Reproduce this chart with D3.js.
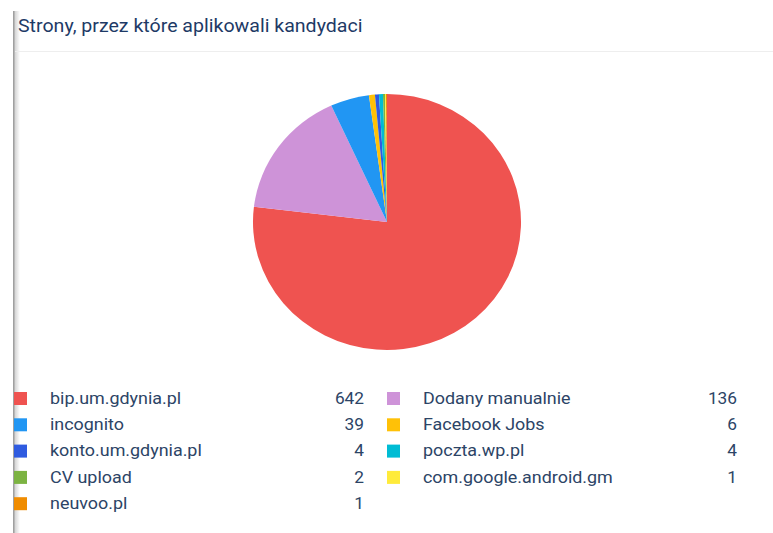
<!DOCTYPE html>
<html>
<head>
<meta charset="utf-8">
<script src="https://cdn.jsdelivr.net/npm/d3@7"></script>
<style>
  body { margin: 0; background: #fff; font-family: Roboto, "Noto Sans", sans-serif; }
</style>
</head>
<body>
<svg id="canvas"></svg>
<script>
"use strict";

// Sources and number of candidates
const sources = [
    "bip.um.gdynia.pl", "Dodany manualnie", "incognito", "Facebook Jobs",
    "konto.um.gdynia.pl", "poczta.wp.pl", "CV upload", "com.google.android.gm", "neuvoo.pl"
];
const counts = [642, 136, 39, 6, 4, 4, 2, 1, 1];
const colors = [
    "#ef5350", "#ce93d8", "#2196f3", "#ffc107",
    "#2f5be0", "#00bcd4", "#7cb342", "#ffeb3b", "#f08c00"
];

const width = 773, height = 533;
const title = "Strony, przez które aplikowali kandydaci";

const data = sources.map((s, i) => ({ name: s, value: counts[i], color: colors[i] }));

const canvas = d3.select("#canvas")
    .attr("width", width)
    .attr("height", height);

// left shadow border
const defs = canvas.append("defs");
const grad = defs.append("linearGradient").attr("id", "shadow");
grad.append("stop").attr("offset", "0%").attr("stop-color", "#c4c4c4");
grad.append("stop").attr("offset", "100%").attr("stop-color", "#ffffff");
canvas.append("rect")
    .attr("x", 13).attr("y", 11)
    .attr("width", 7).attr("height", height - 11)
    .attr("fill", "url(#shadow)");
canvas.append("rect")
    .attr("x", 13).attr("y", 11)
    .attr("width", 1.5).attr("height", height - 11)
    .attr("fill", "#a0a0a0");

// the whole picture is a bit stretched sideways
const sx = 1.047;

canvas.append("text")
    .attr("transform", `translate(18,32) scale(${sx},1)`)
    .attr("font-size", "18.7px")
    .attr("fill", "#1e3a66")
    .text(title);

canvas.append("line")
    .attr("x1", 15).attr("x2", width)
    .attr("y1", 51.5).attr("y2", 51.5)
    .attr("stroke", "#eeeeee");

// pie
const pie = d3.pie().value(d => d.value).sort(null);
const arc = d3.arc().innerRadius(0).outerRadius(128);

canvas.append("g")
    .attr("transform", `translate(387,222) scale(${sx},1)`)
    .selectAll("path")
    .data(pie(data))
    .enter()
    .append("path")
    .attr("d", arc)
    .attr("fill", d => d.data.color);

// legend, row-major in two columns
const colX = [14, 387];
const valX = [364, 737];
const rowY = d3.scaleLinear().domain([0, 1]).range([398.5, 424.8]);

const items = canvas.selectAll(".legend-item")
    .data(data)
    .enter()
    .append("g")
    .attr("class", "legend-item")
    .attr("transform", (d, i) => `translate(0, ${rowY(Math.floor(i / 2))})`);

items.append("rect")
    .attr("x", (d, i) => colX[i % 2])
    .attr("y", -6.5)
    .attr("width", 13)
    .attr("height", 13)
    .attr("fill", d => d.color);

items.append("text")
    .attr("transform", (d, i) => `translate(${colX[i % 2] + 36},0) scale(1.12,1)`)
    .attr("dy", "0.33em")
    .attr("font-size", "16px")
    .attr("fill", "#2c4466")
    .text(d => d.name);

items.append("text")
    .attr("transform", (d, i) => `translate(${valX[i % 2]},0) scale(1.08,1)`)
    .attr("dy", "0.33em")
    .attr("text-anchor", "end")
    .attr("font-size", "16px")
    .attr("fill", "#2c4466")
    .text(d => d.value);
</script>
</body>
</html>
